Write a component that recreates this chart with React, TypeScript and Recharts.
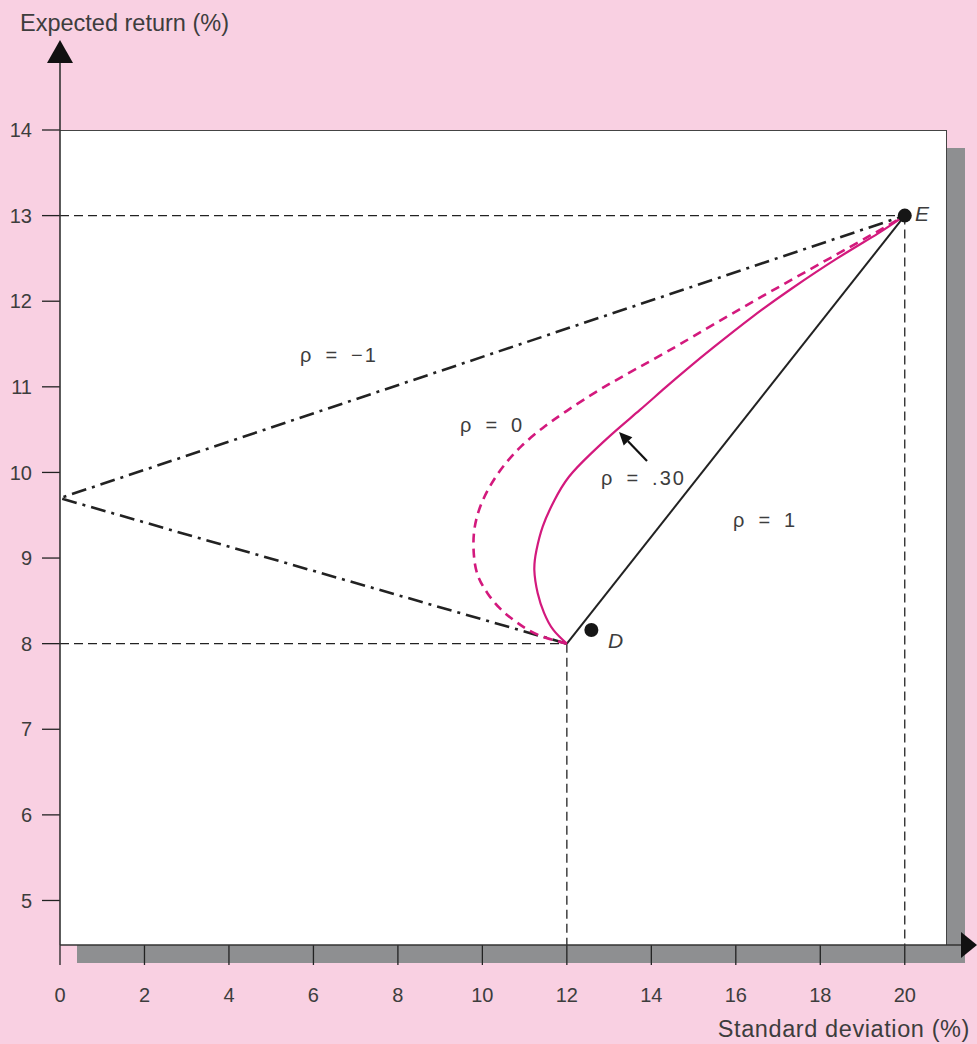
import React from 'react'
import { ComposedChart, Line, Scatter, XAxis, YAxis, ReferenceLine } from 'recharts'

// axis setup
const xTicks = [0, 2, 4, 6, 8, 10, 12, 14, 16, 18, 20]
const yTicks = [5, 6, 7, 8, 9, 10, 11, 12, 13, 14]
const X_MAX = 21
const Y_MIN = 4.48
const Y_MAX = 14

// portfolio frontiers of D and E (sd %, expected return %)
const rhoMinusOne = [
  { sd: 12, ret: 8 },
  { sd: 0, ret: 9.7 },
  { sd: 20, ret: 13 },
]

const rhoOne = [
  { sd: 12, ret: 8 },
  { sd: 20, ret: 13 },
]

const rhoZero = [
  { sd: 12, ret: 8 },
  { sd: 11.33, ret: 8.1 },
  { sd: 10.84, ret: 8.24 },
  { sd: 10.44, ret: 8.4 },
  { sd: 10.12, ret: 8.59 },
  { sd: 9.89, ret: 8.8 },
  { sd: 9.8, ret: 9.03 },
  { sd: 9.8, ret: 9.29 },
  { sd: 9.92, ret: 9.56 },
  { sd: 10.17, ret: 9.83 },
  { sd: 10.51, ret: 10.08 },
  { sd: 10.93, ret: 10.31 },
  { sd: 11.43, ret: 10.52 },
  { sd: 12.0, ret: 10.72 },
  { sd: 12.79, ret: 10.97 },
  { sd: 13.68, ret: 11.22 },
  { sd: 14.72, ret: 11.51 },
  { sd: 16.46, ret: 12.01 },
  { sd: 18.94, ret: 12.7 },
  { sd: 20, ret: 13 },
]

const rhoPoint30 = [
  { sd: 12, ret: 8 },
  { sd: 11.68, ret: 8.16 },
  { sd: 11.46, ret: 8.36 },
  { sd: 11.31, ret: 8.59 },
  { sd: 11.23, ret: 8.86 },
  { sd: 11.28, ret: 9.09 },
  { sd: 11.43, ret: 9.37 },
  { sd: 11.7, ret: 9.67 },
  { sd: 12.05, ret: 9.95 },
  { sd: 12.57, ret: 10.22 },
  { sd: 13.14, ret: 10.48 },
  { sd: 13.73, ret: 10.73 },
  { sd: 14.33, ret: 10.99 },
  { sd: 14.9, ret: 11.23 },
  { sd: 15.47, ret: 11.46 },
  { sd: 16.4, ret: 11.82 },
  { sd: 17.3, ret: 12.14 },
  { sd: 18.4, ret: 12.5 },
  { sd: 19.36, ret: 12.79 },
  { sd: 20, ret: 13 },
]

const markers = [
  { name: 'D', sd: 12.58, ret: 8.16 },
  { name: 'E', sd: 20, ret: 13 },
]

const FONT = '"Liberation Sans", Arial, Helvetica, sans-serif'
const PINK = '#f9d0e2'
const SHADOW = '#8e8f91'
const MAGENTA = '#d3197d'
const INK = '#222'
const TEXT = '#3d3d3d'

const W = 977
const H = 1044
const PLOT = { left: 60, top: 130, right: 947, bottom: 945 }

const refDash = { stroke: INK, strokeWidth: 1.3, strokeDasharray: '9 5' }

const Dot = (props: any) => <circle cx={props.cx} cy={props.cy} r={7} fill="#161616" />

// little arrow pointing at the rho = .30 curve
const arrowTail = { x: 647, y: 461 }
const arrowTip = { x: 619, y: 432 }
const arrowHead = () => {
  const dx = arrowTail.x - arrowTip.x
  const dy = arrowTail.y - arrowTip.y
  const len = Math.hypot(dx, dy)
  const ux = dx / len
  const uy = dy / len
  const bx = arrowTip.x + ux * 13
  const by = arrowTip.y + uy * 13
  const px = -uy * 6
  const py = ux * 6
  return {
    base: { x: bx, y: by },
    points: `${arrowTip.x},${arrowTip.y} ${bx + px},${by + py} ${bx - px},${by - py}`,
  }
}

export default function App() {
  const head = arrowHead()
  const rhoText = { fontFamily: FONT, fontSize: 20, fill: TEXT, letterSpacing: 2 }

  return (
    <div
      style={{
        position: 'absolute',
        left: 0,
        top: 0,
        width: W,
        height: H,
        background: PINK,
        overflow: 'hidden',
      }}
    >
      {/* drop shadow and white plot panel */}
      <div
        style={{
          position: 'absolute',
          left: PLOT.left + 17,
          top: PLOT.top + 18,
          width: PLOT.right - PLOT.left + 1,
          height: PLOT.bottom - PLOT.top,
          background: SHADOW,
        }}
      />
      <div
        style={{
          position: 'absolute',
          left: PLOT.left,
          top: PLOT.top,
          width: PLOT.right - PLOT.left,
          height: PLOT.bottom - PLOT.top,
          background: '#fff',
          borderTop: '1px solid #444',
          borderRight: '1px solid #444',
          boxSizing: 'border-box',
        }}
      />

      <div style={{ position: 'absolute', left: 0, top: 0 }}>
        <ComposedChart
          width={W}
          height={H}
          margin={{ top: PLOT.top, right: W - PLOT.right, left: 0, bottom: 0 }}
        >
          <XAxis
            type="number"
            dataKey="sd"
            domain={[0, X_MAX]}
            ticks={xTicks}
            allowDataOverflow
            height={H - PLOT.bottom}
            axisLine={false}
            tickSize={20}
            tickMargin={23}
            tickLine={{ stroke: INK, strokeWidth: 1.3 }}
            tick={{ fill: TEXT, fontSize: 20, fontFamily: FONT }}
          />
          <YAxis
            type="number"
            dataKey="ret"
            domain={[Y_MIN, Y_MAX]}
            ticks={yTicks}
            allowDataOverflow
            width={PLOT.left}
            axisLine={false}
            tickSize={18}
            tickMargin={10}
            tickLine={{ stroke: INK, strokeWidth: 1.3 }}
            tick={{ fill: TEXT, fontSize: 20, fontFamily: FONT }}
          />

          <ReferenceLine segment={[{ x: 0, y: 13 }, { x: 20, y: 13 }]} {...refDash} />
          <ReferenceLine segment={[{ x: 0, y: 8 }, { x: 12, y: 8 }]} {...refDash} />
          <ReferenceLine segment={[{ x: 12, y: 8 }, { x: 12, y: Y_MIN }]} {...refDash} />
          <ReferenceLine segment={[{ x: 20, y: 13 }, { x: 20, y: Y_MIN }]} {...refDash} />

          <Line
            data={rhoMinusOne}
            dataKey="ret"
            type="linear"
            stroke={INK}
            strokeWidth={2.6}
            strokeDasharray="15 6 3 6"
            dot={false}
            isAnimationActive={false}
          />
          <Line
            data={rhoOne}
            dataKey="ret"
            type="linear"
            stroke={INK}
            strokeWidth={2}
            dot={false}
            isAnimationActive={false}
          />
          <Line
            data={rhoZero}
            dataKey="ret"
            type="natural"
            stroke={MAGENTA}
            strokeWidth={2.6}
            strokeDasharray="9 6"
            dot={false}
            isAnimationActive={false}
          />
          <Line
            data={rhoPoint30}
            dataKey="ret"
            type="natural"
            stroke={MAGENTA}
            strokeWidth={2.2}
            dot={false}
            isAnimationActive={false}
          />
          <Scatter data={markers} dataKey="ret" shape={Dot} isAnimationActive={false} />
        </ComposedChart>
      </div>

      {/* axes with arrow heads, annotations */}
      <svg
        width={W}
        height={H}
        style={{ position: 'absolute', left: 0, top: 0, pointerEvents: 'none' }}
      >
        <line x1={PLOT.left} y1={56} x2={PLOT.left} y2={PLOT.bottom} stroke="#333" strokeWidth={1.6} />
        <polygon points={`${PLOT.left},40 ${PLOT.left - 13},63 ${PLOT.left + 13},63`} fill="#111" />
        <line x1={PLOT.left} y1={PLOT.bottom} x2={963} y2={PLOT.bottom} stroke="#333" strokeWidth={1.6} />
        <polygon points={`977,${PLOT.bottom} 961,${PLOT.bottom - 13} 961,${PLOT.bottom + 13}`} fill="#111" />

        <text x={20} y={31} fontFamily={FONT} fontSize={23.5} fill={TEXT}>
          Expected return (%)
        </text>
        <text
          x={970}
          y={1037}
          textAnchor="end"
          fontFamily={FONT}
          fontSize={23.5}
          letterSpacing={0.6}
          fill={TEXT}
        >
          Standard deviation (%)
        </text>

        <text x={915} y={221} fontFamily={FONT} fontSize={21} fontStyle="italic" fill={TEXT}>
          E
        </text>
        <text x={608} y={648} fontFamily={FONT} fontSize={21} fontStyle="italic" fill={TEXT}>
          D
        </text>

        <text x={300} y={362} {...rhoText}>ρ{'\u2002'}={'\u2002'}−1</text>
        <text x={460} y={432} {...rhoText}>ρ{'\u2002'}={'\u2002'}0</text>
        <text x={601} y={485} {...rhoText}>ρ{'\u2002'}={'\u2002'}.30</text>
        <text x={733} y={527} {...rhoText}>ρ{'\u2002'}={'\u2002'}1</text>

        <line
          x1={arrowTail.x}
          y1={arrowTail.y}
          x2={head.base.x}
          y2={head.base.y}
          stroke="#111"
          strokeWidth={2.2}
        />
        <polygon points={head.points} fill="#111" />
      </svg>
    </div>
  )
}
